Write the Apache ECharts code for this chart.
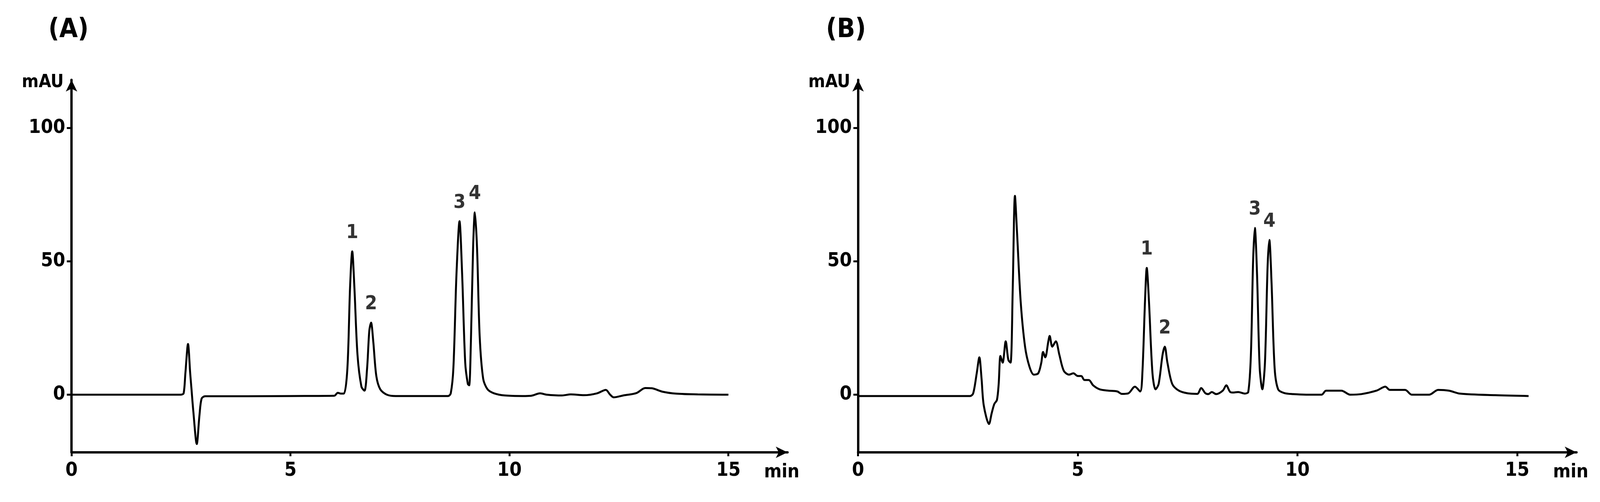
<!DOCTYPE html>
<html>
<head>
<meta charset="utf-8">
<script src="https://cdn.jsdelivr.net/npm/echarts@6/dist/echarts.min.js"></script>
<style>html,body{margin:0;padding:0;background:#fff;overflow:hidden}#chart{width:100vw;height:100vh}</style>
</head>
<body>
<div id="chart"></div>
<script>
// chromatogram A: [min, mAU]
var traceA = [
  [0,0],[1,0],[2,0],[2.5,0],[2.56,0.5],[2.6,8],[2.66,19],[2.71,8],[2.74,2],[2.78,-6],[2.86,-18.5],[2.92,-8],[2.97,-1.5],[3.05,-0.6],
  [4,-0.6],[5,-0.5],[6,-0.4],[6.08,0.7],[6.15,0.4],[6.22,0.4],[6.3,10],[6.36,40],[6.41,53.7],[6.46,40],[6.53,15],[6.62,3],[6.69,1.5],
  [6.75,10],[6.8,24],[6.84,27],[6.89,20],[6.96,7],[7.05,2],[7.2,0],[7.4,-0.5],[8,-0.5],[8.6,-0.5],[8.66,0.5],[8.72,10],[8.79,45],
  [8.86,65],[8.92,45],[8.99,12],[9.05,4],[9.08,3.5],[9.12,20],[9.17,55],[9.21,68.3],[9.26,55],[9.32,22],[9.4,6],[9.5,2],[9.65,0.5],
  [9.9,-0.3],[10.3,-0.5],[10.5,-0.4],[10.7,0.5],[10.85,0],[11.2,-0.3],[11.4,0.1],[11.7,-0.2],[12.0,0.5],[12.2,1.8],[12.3,0],[12.38,-1],
  [12.6,-0.3],[12.9,0.6],[13.1,2.5],[13.25,2.4],[13.5,1.1],[13.8,0.4],[14.3,0.1],[15,0]
];
// chromatogram B: [min, mAU]
var traceB = [
  [0,-0.5],[1,-0.5],[2,-0.5],[2.55,-0.5],[2.62,0.5],[2.7,8],[2.76,14],[2.81,6],[2.86,-4],[2.98,-11],[3.04,-7],[3.1,-3.5],[3.16,-2],
  [3.2,4],[3.24,14.5],[3.29,12],[3.36,20],[3.42,13],[3.47,12],[3.52,40],[3.57,74.5],[3.62,60],[3.7,35],[3.8,18],[3.9,10.5],[4.0,7.5],
  [4.1,8],[4.17,12],[4.21,16],[4.26,14],[4.33,20],[4.36,22],[4.42,18],[4.5,20],[4.58,15],[4.68,9],[4.8,7.5],[4.9,8],[5.0,7],[5.08,7],
  [5.15,5.5],[5.25,5.5],[5.35,3.5],[5.5,2],[5.7,1.5],[5.9,1.2],[6.0,0.3],[6.15,0.5],[6.3,3],[6.42,1.2],[6.47,8],[6.53,35],[6.57,47.5],
  [6.62,35],[6.7,8],[6.77,2],[6.84,4],[6.93,15],[6.98,18],[7.04,12],[7.15,4],[7.3,1.5],[7.5,0.5],[7.72,0.3],[7.81,2.5],[7.9,0.6],
  [7.97,0.2],[8.05,1],[8.15,0.2],[8.3,1.5],[8.38,3.5],[8.47,1],[8.55,0.8],[8.65,1],[8.8,0.4],[8.88,1],[8.94,15],[8.99,50],[9.03,62.5],
  [9.08,45],[9.14,10],[9.2,2],[9.26,12],[9.32,48],[9.36,58],[9.41,42],[9.48,10],[9.56,2],[9.7,0.6],[9.9,0.2],[10.2,0],[10.55,0],
  [10.65,1.5],[11.0,1.5],[11.2,0],[11.45,0.2],[11.8,1.5],[12.0,3],[12.1,1.8],[12.45,1.8],[12.6,0],[13.0,0],[13.2,1.8],[13.45,1.5],
  [13.7,0.4],[14.5,-0.2],[15.26,-0.5]
];
var peaksA = [['1',6.41,53.7],['2',6.84,27],['3',8.86,65],['4',9.21,68.3]];
var peaksB = [['1',6.57,47.5],['2',6.98,18],['3',9.03,62.5],['4',9.36,58]];
var xTicks = [0, 5, 10, 15];
var yTicks = [0, 50, 100];
var panelTitles = ['(A)', '(B)'];

var font = '"Liberation Sans Narrow", "DejaVu Sans Condensed", "Liberation Sans", sans-serif';
var axisLine = {onZero: false, symbol: ['none', 'arrow'], symbolSize: [22, 30], lineStyle: {color: '#000', width: 6}};

function xAxis(i) {
  return {
    gridIndex: i, type: 'value', min: 0, max: 16.35,
    name: 'min', nameLocation: 'end', nameGap: -60,
    nameTextStyle: {fontFamily: font, fontWeight: 'bold', fontSize: 48, color: '#000', verticalAlign: 'top', padding: [28, 0, 0, 0]},
    axisLine: axisLine, splitLine: {show: false},
    axisTick: {show: true, customValues: xTicks, length: 10, lineStyle: {width: 5, color: '#000'}},
    axisLabel: {customValues: xTicks, margin: 22, fontFamily: font, fontWeight: 'bold', fontSize: 50, color: '#000'}
  };
}
function yAxis(i) {
  return {
    gridIndex: i, type: 'value', min: -21.6, max: 118,
    name: 'mAU', nameLocation: 'end', nameGap: -30,
    nameTextStyle: {fontFamily: font, fontWeight: 'bold', fontSize: 46, color: '#000', align: 'right', padding: [0, 20, 0, 0]},
    axisLine: axisLine, splitLine: {show: false},
    axisTick: {show: true, customValues: yTicks, length: 12, lineStyle: {width: 5, color: '#000'}},
    axisLabel: {customValues: yTicks, margin: 16, fontFamily: font, fontWeight: 'bold', fontSize: 50, color: '#000'}
  };
}
function trace(i, data) {
  return {type: 'line', xAxisIndex: i, yAxisIndex: i, data: data, smooth: 0.3, symbol: 'none',
    lineStyle: {color: '#000', width: 5}};
}
function labels(i, peaks) {
  return {type: 'scatter', xAxisIndex: i, yAxisIndex: i, symbolSize: 0, silent: true,
    data: peaks.map(function (p) { return {name: p[0], value: [p[1], p[2]]}; }),
    label: {show: true, position: 'top', distance: 22, formatter: '{b}', fontFamily: font, fontWeight: 'bold', fontSize: 50, color: '#000'}};
}

var chart = echarts.init(document.getElementById('chart'));
chart.setOption({
  backgroundColor: '#fff',
  animation: false,
  title: [
    {text: panelTitles[0], left: '2.9%', top: '3%', textStyle: {fontFamily: font, fontWeight: 'bold', fontSize: 68, color: '#000'}},
    {text: panelTitles[1], left: '51.5%', top: '3%', textStyle: {fontFamily: font, fontWeight: 'bold', fontSize: 68, color: '#000'}}
  ],
  grid: [
    {left: '4.47%', top: '15.9%', width: '44.75%', height: '74.2%'},
    {left: '53.63%', top: '15.9%', width: '44.9%', height: '74.2%'}
  ],
  xAxis: [xAxis(0), xAxis(1)],
  yAxis: [yAxis(0), yAxis(1)],
  series: [trace(0, traceA), trace(1, traceB), labels(0, peaksA), labels(1, peaksB)]
});
window.addEventListener('resize', function () { chart.resize(); });
</script>
</body>
</html>
